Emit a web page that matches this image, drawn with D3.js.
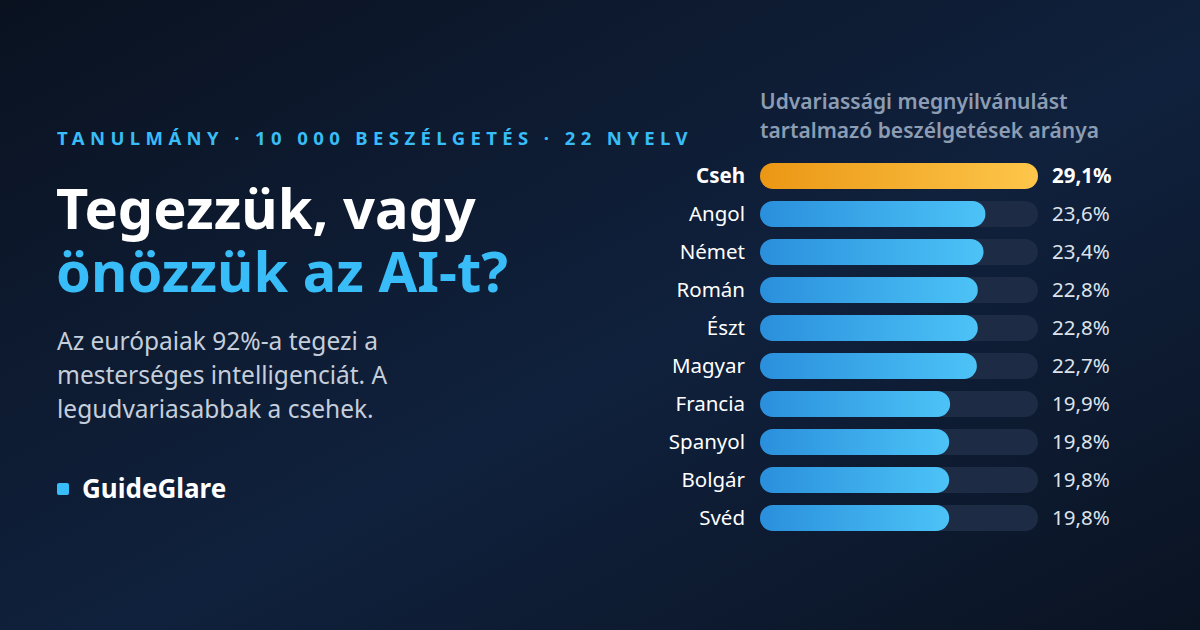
<!DOCTYPE html>
<html><head><meta charset="utf-8">
<script src="https://cdn.jsdelivr.net/npm/d3@7"></script>
<style>body{margin:0;background:#0b1424}svg{display:block}text{font-family:"Noto Sans",sans-serif}</style>
</head><body><svg id="c" width="1200" height="630"></svg>
<script>
const languages=["Cseh","Angol","Német","Román","Észt","Magyar","Francia","Spanyol","Bolgár","Svéd"];
const shares=[29.1,23.6,23.4,22.8,22.8,22.7,19.9,19.8,19.8,19.8];
const svg=d3.select("#c");
const defs=svg.append("defs");
const bg=defs.append("linearGradient").attr("id","bg").attr("x1","0").attr("y1","0").attr("x2","1").attr("y2","1");
bg.append("stop").attr("offset","0").attr("stop-color","#0a1220");
bg.append("stop").attr("offset","0.55").attr("stop-color","#10213d");
bg.append("stop").attr("offset","1").attr("stop-color","#0a1322");
const gb=defs.append("linearGradient").attr("id","gb");
gb.append("stop").attr("offset","0").attr("stop-color","#2a8fdc");
gb.append("stop").attr("offset","1").attr("stop-color","#4cc3f7");
const go=defs.append("linearGradient").attr("id","go");
go.append("stop").attr("offset","0").attr("stop-color","#eb9714");
go.append("stop").attr("offset","1").attr("stop-color","#fdc64a");
svg.append("rect").attr("width",1200).attr("height",630).attr("fill","url(#bg)");

svg.append("text").attr("x",57).attr("y",145).attr("fill","#38bdf8").attr("font-size",18.5).attr("font-weight",700).attr("letter-spacing",5.4).text("TANULMÁNY · 10 000 BESZÉLGETÉS · 22 NYELV");
svg.append("text").attr("x",56).attr("y",229).attr("fill","#fff").attr("font-size",56).attr("font-weight",700).text("Tegezzük, vagy");
svg.append("text").attr("x",56).attr("y",292).attr("fill","#38bdf8").attr("font-size",56).attr("font-weight",700).text("önözzük az AI-t?");
["Az európaiak 92%-a tegezi a","mesterséges intelligenciát. A","legudvariasabbak a csehek."].forEach((t,i)=>
 svg.append("text").attr("x",57).attr("y",350+i*34).attr("fill","#c5cedb").attr("font-size",24.5).text(t));
svg.append("rect").attr("x",57).attr("y",483).attr("width",12).attr("height",12).attr("rx",2).attr("fill","#38bdf8");
svg.append("text").attr("x",82).attr("y",498).attr("fill","#fff").attr("font-size",26).attr("font-weight",700).text("GuideGlare");

svg.append("text").attr("x",760).attr("y",109).attr("fill","#8c9db3").attr("font-size",21).attr("font-weight",600).text("Udvariassági megnyilvánulást");
svg.append("text").attr("x",760).attr("y",138).attr("fill","#8c9db3").attr("font-size",21).attr("font-weight",600).text("tartalmazó beszélgetések aránya");

const x=d3.scaleLinear().domain([0,29.1]).range([760,1038]);
const y=d3.scaleBand().domain(languages).range([157,537]).paddingInner(0.316).paddingOuter(0.158);
const g=svg.append("g");
const row=g.selectAll("g").data(languages).join("g");
row.append("rect").attr("x",x(0)).attr("y",d=>y(d)).attr("width",x(29.1)-x(0)).attr("height",y.bandwidth()).attr("rx",y.bandwidth()/2).attr("fill","#1d2b45");
row.append("rect").attr("x",x(0)).attr("y",d=>y(d)).attr("width",(d,i)=>x(shares[i])-x(0)).attr("height",y.bandwidth()).attr("rx",y.bandwidth()/2).attr("fill",(d,i)=>i===0?"url(#go)":"url(#gb)");
row.append("text").attr("x",745).attr("y",d=>y(d)+y.bandwidth()/2).attr("dy","0.35em").attr("text-anchor","end").attr("fill","#fff").attr("font-size",20.5).attr("font-weight",(d,i)=>i===0?700:400).text(d=>d);
row.append("text").attr("x",1052).attr("y",d=>y(d)+y.bandwidth()/2).attr("dy","0.35em").attr("fill",(d,i)=>i===0?"#fff":"#dde3ec").attr("font-size",20.5).attr("font-weight",(d,i)=>i===0?700:400).text((d,i)=>d3.format(".1f")(shares[i]).replace(".",",")+"%");
</script></body></html>
